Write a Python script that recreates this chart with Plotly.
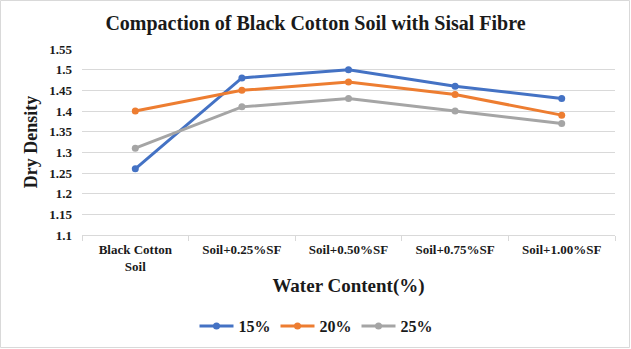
import plotly.graph_objects as go

categories = ["Black Cotton<br>Soil", "Soil+0.25%SF", "Soil+0.50%SF", "Soil+0.75%SF", "Soil+1.00%SF"]
s15 = [1.26, 1.48, 1.50, 1.46, 1.43]
s20 = [1.40, 1.45, 1.47, 1.44, 1.39]
s25 = [1.31, 1.41, 1.43, 1.40, 1.37]
series = [("15%", s15, "#4472C4"), ("20%", s20, "#ED7D31"), ("25%", s25, "#A5A5A5")]
yticks = [1.1, 1.15, 1.2, 1.25, 1.3, 1.35, 1.4, 1.45, 1.5, 1.55]

W, H = 631, 349
L, R, T, B = 82, 16, 49, 114
pw, ph = W - L - R, H - T - B

fig = go.Figure()
for name, vals, col in series:
    fig.add_trace(go.Scatter(x=categories, y=vals, name=f"<b>{name}</b>", mode="lines+markers",
                             line=dict(color=col, width=3), marker=dict(color=col, size=7)))

font = "Liberation Serif, Times New Roman, serif"
fig.update_layout(
    width=W, height=H,
    margin=dict(l=L, r=R, t=T, b=B, autoexpand=False),
    paper_bgcolor="white", plot_bgcolor="white",
    font=dict(family=font, color="#000000"),
    title=dict(text="<b>Compaction of Black Cotton Soil with Sisal Fibre</b>",
               x=0.5, xref="container", xanchor="center", y=1 - 23 / H, yanchor="middle",
               font=dict(size=20, family=font, color="#1a1a1a")),
    showlegend=True,
    legend=dict(orientation="h", x=(316 - L) / pw, xanchor="center", y=-(326 - T - ph) / ph,
                yanchor="middle", font=dict(size=16, family=font, color="#1a1a1a"), traceorder="normal",
                itemwidth=34),
    xaxis=dict(type="category", range=[-0.5, 4.5], tickson="boundaries", automargin=False,
               showline=True, linecolor="#D9D9D9", linewidth=1,
               ticks="outside", ticklen=5, tickcolor="#D9D9D9", ticklabelstandoff=2,
               showgrid=False, tickfont=dict(size=13, family=font, color="#1a1a1a"),
               title=dict(text="<b>Water Content(%)</b>", font=dict(size=19, family=font, color="#1a1a1a"), standoff=6)),
    yaxis=dict(range=[1.1, 1.55], tickvals=yticks, ticktext=[f"<b>{v:g}</b>" for v in yticks],
               showgrid=True, gridcolor="#D9D9D9", gridwidth=1, zeroline=False, automargin=False,
               showline=False, tickfont=dict(size=13, family=font, color="#1a1a1a"), ticks="",
               ticklabelstandoff=9,
               title=dict(text="<b>Dry Density</b>", font=dict(size=18, family=font, color="#1a1a1a"), standoff=6)),
)
fig.update_xaxes(ticktext=[f"<b>{c}</b>" for c in categories], tickvals=categories)

fig.add_shape(type="rect", xref="paper", yref="paper",
              x0=-(L - 0.5) / pw, x1=1 + (R - 1.5) / pw,
              y0=-(B - 1.5) / ph, y1=1 + (T - 0.5) / ph,
              line=dict(color="#D9D9D9", width=1), fillcolor="rgba(0,0,0,0)", layer="below")

fig.write_html("out.html")
